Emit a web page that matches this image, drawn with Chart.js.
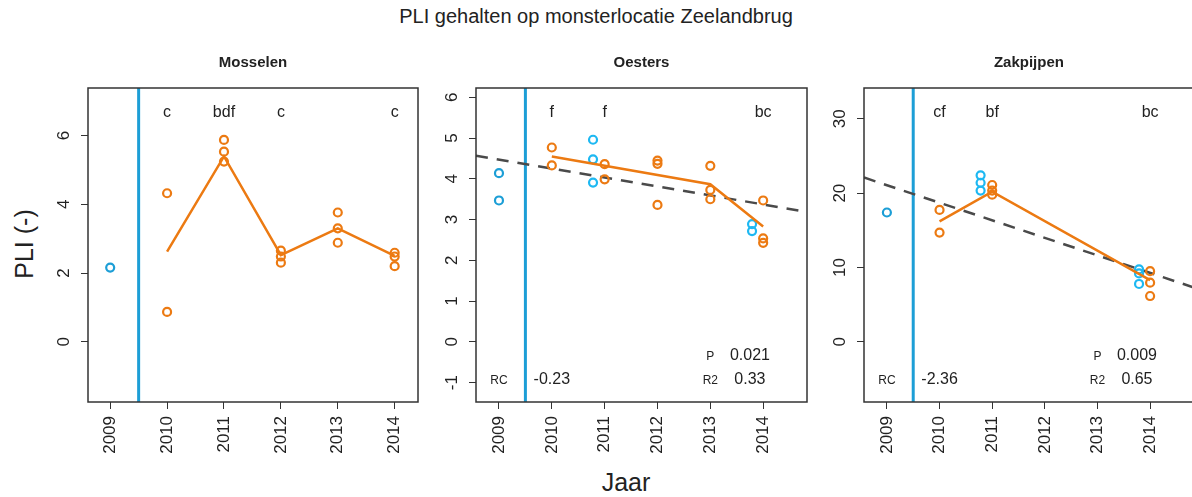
<!DOCTYPE html>
<html>
<head>
<meta charset="utf-8">
<script src="https://cdn.jsdelivr.net/npm/chart.js@4/dist/chart.umd.min.js"></script>
<style>
  html, body { margin: 0; padding: 0; background: #fff; overflow: hidden; }
  body { width: 1192px; height: 497px; position: relative; font-family: "Liberation Sans", Arial, sans-serif; color: #222; }
  canvas { position: absolute; top: 0; }
  #mainTitle { position: absolute; left: 0; top: 6px; width: 1192px; text-align: center; font-size: 20px; line-height: 20px; }
  #xTitle { position: absolute; left: 526px; top: 470px; width: 200px; text-align: center; font-size: 25px; line-height: 25px; }
  #yTitle { position: absolute; left: -36px; top: 229px; width: 120px; height: 30px; line-height: 30px; text-align: center; font-size: 25px; transform: rotate(-90deg); }
</style>
</head>
<body>
<div id="mainTitle">PLI gehalten op monsterlocatie Zeelandbrug</div>
<div id="yTitle">PLI (-)</div>
<div id="xTitle">Jaar</div>
<canvas id="c1" width="430" height="497" style="left:0px"></canvas>
<canvas id="c2" width="390" height="497" style="left:430px"></canvas>
<canvas id="c3" width="380" height="497" style="left:820px"></canvas>
<script>
// jaren op de x-as
const years = [2009, 2010, 2011, 2012, 2013, 2014];
const letterYears = [2010, 2011, 2012, 2013, 2014];
const splitYear = 2009.5;

// Mosselen
const mosRefX = [2009];
const mosRefY = [2.16];
const mosX = [2010, 2010, 2011, 2011, 2011, 2012, 2012, 2012, 2013, 2013, 2013, 2014, 2014, 2014];
const mosY = [4.32, 0.87, 5.87, 5.53, 5.24, 2.65, 2.48, 2.30, 3.76, 3.30, 2.88, 2.59, 2.48, 2.20];
const mosLineX = [2010, 2011, 2012, 2013, 2014];
const mosLineY = [2.62, 5.39, 2.52, 3.30, 2.50];
const mosLetters = ['c', 'bdf', 'c', '', 'c'];
const mosTicks = [0, 2, 4, 6];

// Oesters
const oesRefX = [2009, 2009];
const oesRefY = [4.14, 3.47];
const oesX = [2010, 2010, 2011, 2011, 2012, 2012, 2012, 2013, 2013, 2013, 2014, 2014, 2014];
const oesY = [4.77, 4.33, 4.36, 3.99, 4.45, 4.37, 3.36, 4.32, 3.73, 3.50, 3.47, 2.54, 2.43];
const oesOtherX = [2010.78, 2010.78, 2010.78, 2013.79, 2013.79];
const oesOtherY = [4.96, 4.48, 3.91, 2.89, 2.72];
const oesLineX = [2010, 2013, 2014];
const oesLineY = [4.55, 3.87, 2.83];
const oesTrendX = [2008.565, 2014.83];
const oesTrendY = [4.57, 3.19];
const oesLetters = ['f', 'f', '', '', 'bc'];
const oesStats = ['-0.23', '0.021', '0.33']; // RC, P, R2
const oesTicks = [-1, 0, 1, 2, 3, 4, 5, 6];

// Zakpijpen
const zakRefX = [2009];
const zakRefY = [17.4];
const zakX = [2010, 2010, 2011, 2011, 2011, 2014, 2014, 2014];
const zakY = [17.75, 14.7, 21.1, 20.35, 19.8, 9.5, 7.95, 6.16];
const zakOtherX = [2010.78, 2010.78, 2010.78, 2013.79, 2013.79, 2013.79];
const zakOtherY = [22.4, 21.4, 20.35, 9.75, 9.2, 7.78];
const zakLineX = [2010, 2011, 2014];
const zakLineY = [16.2, 20.2, 8.3];
const zakTrendX = [2008.565, 2014.83];
const zakTrendY = [22.1, 7.31];
const zakLetters = ['cf', 'bf', '', '', 'bc'];
const zakStats = ['-2.36', '0.009', '0.65'];
const zakTicks = [0, 10, 20, 30];

const ORANGE = '#ec7a12';
const BLUE = '#1c9ed6';
const LIGHTBLUE = '#1db8f2';
const GREY = '#4a4a4a';
const FONT = '"Liberation Sans", Arial, sans-serif';

Chart.defaults.font.family = FONT;

function pts(xs, ys) {
    return xs.map((x, i) => ({ x: x, y: ys[i] }));
}

function circles(xs, ys, color) {
    return {
        data: pts(xs, ys), showLine: false, pointStyle: 'circle',
        pointRadius: 4, pointBorderWidth: 2.2, pointBorderColor: color,
        pointBackgroundColor: 'rgba(0,0,0,0)'
    };
}

function line(xs, ys, color, width, dash) {
    return {
        data: pts(xs, ys), showLine: true, pointRadius: 0, borderColor: color,
        borderWidth: width, borderDash: dash || [], fill: false, tension: 0
    };
}

// tekst op de plot, boven de box, gedraaide y-labels
const decor = {
    id: 'decor',
    afterDraw(chart, args, o) {
        const ctx = chart.ctx;
        const a = chart.chartArea;
        const xs = chart.scales.x, ys = chart.scales.y;
        ctx.save();
        ctx.strokeStyle = '#333';
        ctx.lineWidth = 1.5;
        ctx.strokeRect(a.left, a.top, a.right - a.left, a.bottom - a.top);

        ctx.fillStyle = '#222';
        ctx.font = '17px ' + FONT;
        ctx.textAlign = 'center';
        ctx.textBaseline = 'middle';
        ys.ticks.forEach(t => {
            ctx.save();
            ctx.translate(a.left - 24, ys.getPixelForValue(t.value));
            ctx.rotate(-Math.PI / 2);
            ctx.fillText(String(t.value), 0, 0);
            ctx.restore();
        });

        ctx.textBaseline = 'alphabetic';
        ctx.font = 'bold 15px ' + FONT;
        ctx.fillText(o.title, (a.left + a.right) / 2, 67);

        o.notes.forEach(n => {
            ctx.font = n.size + 'px ' + FONT;
            ctx.fillText(n.text, xs.getPixelForValue(n.x), ys.getPixelForValue(n.y));
        });
        ctx.restore();
    }
};

function letterNotes(letters, yPos) {
    return letters.map((t, i) => ({ x: letterYears[i], y: yPos, text: t, size: 16 }));
}

function statNotes(stats, yP, yR) {
    return [
        { x: 2009, y: yR, text: 'RC', size: 12 },
        { x: 2010, y: yR, text: stats[0], size: 16 },
        { x: 2013, y: yP, text: 'P', size: 12 },
        { x: 2013.75, y: yP, text: stats[1], size: 16 },
        { x: 2013, y: yR, text: 'R2', size: 12 },
        { x: 2013.75, y: yR, text: stats[2], size: 16 }
    ];
}

function makePanel(id, p) {
    new Chart(document.getElementById(id), {
        type: 'scatter',
        data: { datasets: p.datasets },
        options: {
            responsive: false,
            animation: false,
            devicePixelRatio: 1,
            layout: { padding: { top: 88, right: p.rightPad, bottom: 0, left: 0 } },
            plugins: {
                legend: { display: false },
                tooltip: { enabled: false },
                decor: { title: p.title, notes: p.notes }
            },
            scales: {
                x: {
                    type: 'linear', min: p.xMin, max: p.xMax,
                    afterBuildTicks: s => { s.ticks = years.map(v => ({ value: v })); },
                    afterFit: s => { s.height = 95; },
                    grid: { drawOnChartArea: false, drawTicks: true, tickLength: 7, color: '#333', lineWidth: 1 },
                    border: { display: false },
                    ticks: {
                        autoSkip: false, minRotation: 90, maxRotation: 90, padding: 7,
                        color: '#222', font: { size: 17 }, callback: v => String(v)
                    }
                },
                y: {
                    type: 'linear', min: p.yMin, max: p.yMax,
                    afterBuildTicks: s => { s.ticks = p.yTicks.map(v => ({ value: v })); },
                    afterFit: s => { s.width = p.leftW; },
                    grid: { drawOnChartArea: false, drawTicks: true, tickLength: 7, color: '#333', lineWidth: 1 },
                    border: { display: false },
                    ticks: { display: false }
                }
            }
        },
        plugins: [decor]
    });
}

makePanel('c1', {
    title: 'Mosselen', xMin: 2008.61, xMax: 2014.41, yMin: -1.75, yMax: 7.38,
    yTicks: mosTicks, leftW: 88, rightPad: 12,
    notes: letterNotes(mosLetters, 6.55),
    datasets: [
        line(mosLineX, mosLineY, ORANGE, 2.5),
        circles(mosX, mosY, ORANGE),
        circles(mosRefX, mosRefY, BLUE),
        line([splitYear, splitYear], [-1.75, 7.38], BLUE, 3)
    ]
});

makePanel('c2', {
    title: 'Oesters', xMin: 2008.565, xMax: 2014.83, yMin: -1.475, yMax: 6.23,
    yTicks: oesTicks, leftW: 46, rightPad: 13,
    notes: letterNotes(oesLetters, 5.52).concat(statNotes(oesStats, -0.45, -1.04)),
    datasets: [
        line(oesLineX, oesLineY, ORANGE, 2.5),
        circles(oesX, oesY, ORANGE),
        circles(oesOtherX, oesOtherY, LIGHTBLUE),
        circles(oesRefX, oesRefY, BLUE),
        line(oesTrendX, oesTrendY, GREY, 2.5, [12, 9]),
        line([splitYear, splitYear], [-1.475, 6.23], BLUE, 3)
    ]
});

makePanel('c3', {
    title: 'Zakpijpen', xMin: 2008.565, xMax: 2014.83, yMin: -8.1, yMax: 34.15,
    yTicks: zakTicks, leftW: 44, rightPad: 5,
    notes: letterNotes(zakLetters, 30.3).concat(statNotes(zakStats, -2.47, -5.7)),
    datasets: [
        line(zakLineX, zakLineY, ORANGE, 2.5),
        circles(zakX, zakY, ORANGE),
        circles(zakOtherX, zakOtherY, LIGHTBLUE),
        circles(zakRefX, zakRefY, BLUE),
        line(zakTrendX, zakTrendY, GREY, 2.5, [12, 9]),
        line([splitYear, splitYear], [-8.1, 34.15], BLUE, 3)
    ]
});
</script>
</body>
</html>
